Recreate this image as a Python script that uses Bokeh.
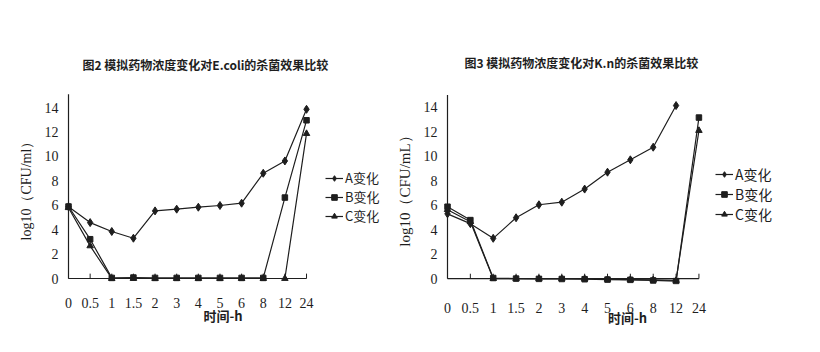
import math
from bokeh.plotting import figure
from bokeh.layouts import row
from bokeh.models import FixedTicker, Legend, LegendItem, Range1d, Title
from bokeh.embed import file_html
from bokeh.resources import INLINE

# ---------------- data ----------------
time_labels = ["0", "0.5", "1", "1.5", "2", "3", "4", "5", "6", "8", "12", "24"]
y_ticks = [0, 2, 4, 6, 8, 10, 12, 14]
series_names = ["A变化", "B变化", "C变化"]

ecoli_A = [5.87, 4.58, 3.85, 3.30, 5.54, 5.68, 5.84, 5.98, 6.17, 8.62, 9.63, 13.86]
ecoli_B = [5.90, 3.22, 0.05, 0.08, 0.05, 0.05, 0.05, 0.05, 0.05, 0.05, 6.63, 12.96]
ecoli_C = [5.80, 2.67, 0.00, 0.00, 0.00, 0.00, 0.00, 0.00, 0.00, 0.00, 0.00, 11.87]

kn_A = [5.29, 4.49, 3.29, 4.97, 6.03, 6.24, 7.31, 8.69, 9.70, 10.73, 14.13, float("nan")]
kn_B = [5.87, 4.78, 0.05, 0.00, -0.02, -0.03, -0.05, -0.08, -0.10, -0.15, -0.20, 13.15]
kn_C = [5.63, 4.65, 0.00, 0.00, 0.00, 0.00, 0.00, -0.05, -0.08, -0.10, -0.15, 12.09]

title_ecoli = "图2  模拟药物浓度变化对E.coli的杀菌效果比较"
title_kn = "图3  模拟药物浓度变化对K.n的杀菌效果比较"
ylabel_ecoli = "log10（CFU/ml）"
ylabel_kn = "log10（CFU/mL）"
xlabel = "时间-h"

CJK = "Noto Sans CJK SC"
NUM = "Liberation Serif"
INK = "#1e1e1e"


def make_chart(title, ylabel, A, B, C, g):
    xs = list(range(len(time_labels)))
    p = figure(width=g["w"], height=352, output_backend="svg", toolbar_location=None,
               x_range=Range1d(g["x0"], g["x1"]), y_range=Range1d(g["y0"], g["y1"]),
               min_border_left=g["bl"], min_border_right=g["br"],
               min_border_top=g["bt"], min_border_bottom=g["bb"])
    p.outline_line_color = None
    p.xgrid.visible = False
    p.ygrid.visible = False

    t = Title(text=title, align="left", offset=g["toff"], text_font=CJK,
              text_font_size=g["tfs"], text_font_style="bold", text_color=INK,
              standoff=g["tstand"])
    p.add_layout(t, "above")

    # axes live at the frame edges (labels only); the axis lines are drawn at 0
    xa = p.xaxis[0]
    xa.ticker = FixedTicker(ticks=xs)
    xa.major_label_overrides = {i: lab for i, lab in zip(xs, time_labels)}
    xa.axis_line_color = None
    xa.major_tick_line_color = None
    xa.minor_tick_line_color = None
    xa.major_label_text_font = NUM
    xa.major_label_text_font_size = g["nfs"]
    xa.major_label_text_color = INK
    xa.major_label_standoff = g["xstand"]
    xa.axis_label = xlabel
    xa.axis_label_text_font = CJK
    xa.axis_label_text_font_size = "13px"
    xa.axis_label_text_font_style = "bold"
    xa.axis_label_text_color = INK
    xa.axis_label_standoff = g["xlstand"]

    ya = p.yaxis[0]
    ya.ticker = FixedTicker(ticks=y_ticks)
    ya.axis_line_color = None
    ya.major_tick_line_color = None
    ya.minor_tick_line_color = None
    ya.major_label_text_font = NUM
    ya.major_label_text_font_size = g["nfs"]
    ya.major_label_text_color = INK
    ya.major_label_standoff = g["ystand"]
    ya.axis_label = ylabel
    ya.axis_label_text_font = NUM
    ya.axis_label_text_font_size = g["yfs"]
    ya.axis_label_text_font_style = "normal"
    ya.axis_label_text_color = INK
    ya.axis_label_standoff = g["ylstand"]

    # axis lines at x = 0 and y = 0, with inward category ticks
    p.line([xs[0], xs[-1]], [0, 0], line_color=INK, line_width=1.2)
    p.line([xs[0], xs[0]], [0, g["ytop"]], line_color=INK, line_width=1.2)
    p.segment(x0=xs, y0=[0] * len(xs), x1=xs, y1=[g["tick"]] * len(xs),
              line_color=INK, line_width=1)

    items = []
    for vals, mk, size, name in zip([A, B, C], ["diamond", "square", "triangle"],
                                    [8, 5.5, 6.5], series_names):
        ln = p.line(xs, vals, line_color=INK, line_width=1.2)
        sc = p.scatter(xs, vals, marker=mk, size=size, fill_color=INK, line_color=INK)
        items.append(LegendItem(label=name, renderers=[ln, sc]))

    leg = Legend(items=items, location=g["legloc"], padding=0, margin=0,
                 border_line_alpha=0, background_fill_alpha=0,
                 glyph_width=18, glyph_height=14, label_height=14,
                 label_standoff=2, spacing=0,
                 label_text_font=CJK, label_text_font_size=g["lfs"],
                 label_text_color=INK)
    p.add_layout(leg)
    return p


g_left = dict(w=390, x0=-0.37, x1=14.65, y0=-0.49, y1=15.4, ytop=15.1, tick=0.4,
              bl=60, br=5, bt=90, bb=68, toff=22, tfs="12px", tstand=35,
              nfs="14px", xstand=7, xlstand=-5, ystand=-4, ylstand=8, yfs="14px",
              legloc=(265, 59), lfs="13px")
g_right = dict(w=430, x0=-0.35, x1=16.1, y0=-0.48, y1=15.36, ytop=15.0, tick=0.4,
               bl=49, br=5, bt=90, bb=64, toff=25, tfs="12px", tstand=39,
               nfs="14px", xstand=12, xlstand=-8, ystand=-4, ylstand=8, yfs="15px",
               legloc=(276, 60), lfs="14px")

p1 = make_chart(title_ecoli, ylabel_ecoli, ecoli_A, ecoli_B, ecoli_C, g_left)
p2 = make_chart(title_kn, ylabel_kn, kn_A, kn_B, kn_C, g_right)

layout = row(p1, p2)
open("out.html", "w").write(file_html(layout, INLINE))
